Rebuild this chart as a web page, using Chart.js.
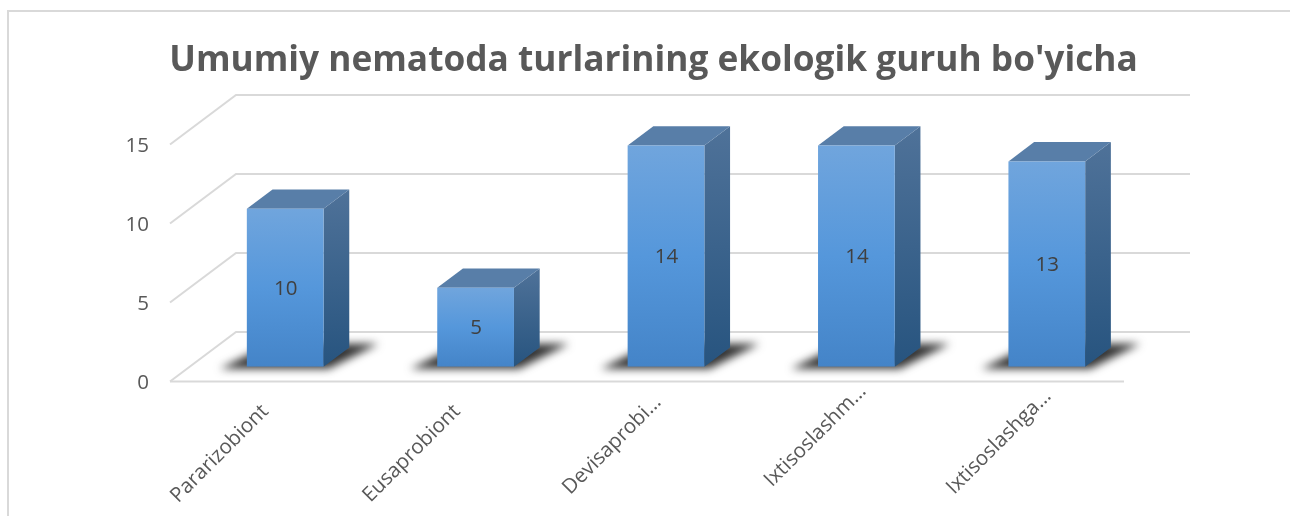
<!DOCTYPE html>
<html>
<head>
<meta charset="utf-8">
<style>html,body{margin:0;padding:0;background:#fff}canvas{display:block}</style>
<script src="https://cdn.jsdelivr.net/npm/chart.js@4"></script>
</head>
<body>
<canvas id="c" width="1290" height="516"></canvas>
<script>
const categories = ['Pararizobiont','Eusaprobiont','Devisaprobi…','Ixtisoslashm…','Ixtisoslashga…'];
const values = [10,5,14,14,13];
const titleText = "Umumiy nematoda turlarining ekologik guruh bo'yicha";
const FONT = '"Open Sans"';

// 3D layout of the picture
const wall = {dx:66, dy:-49.5};    // floor depth for gridlines
const seat = {dx:20, dy:-14.7};    // where bars stand on the floor
const depth = {dx:25.7, dy:-19.3}; // bar depth
const labelSlide = [[0,0],[1.4,0],[12,-9],[26.6,-20],[21,-15]]; // category label nudges along the diagonal

const threeD = {
  id:'threeD',
  beforeDraw(chart){
    const c = chart.ctx;
    c.save();
    c.fillStyle='#fff'; c.fillRect(0,0,chart.width,chart.height);
    c.strokeStyle='#d9d9d9'; c.lineWidth=2;
    c.beginPath(); c.moveTo(8,chart.height); c.lineTo(8,11); c.lineTo(chart.width,11); c.stroke();
    c.restore();
    const xi = chart.scales.x.getLabelItems(), yi = chart.scales.y.getLabelItems();
    if(!xi.shifted){
      xi.forEach((it,i)=>{ it.options.translation[0]+=labelSlide[i][0]; it.options.translation[1]+=labelSlide[i][1]; });
      xi.shifted=true;
    }
    if(!yi.shifted){
      yi.forEach(it=>{ it.options.translation[1]+=1.5; });
      yi.shifted=true;
    }
  },
  beforeDatasetsDraw(chart){
    const c = chart.ctx, a = chart.chartArea, y = chart.scales.y;
    c.save();
    c.strokeStyle='#d9d9d9'; c.lineWidth=2;
    y.ticks.forEach(t=>{
      const p = y.getPixelForValue(t.value);
      c.beginPath();
      c.moveTo(a.left,p);
      c.lineTo(a.left+wall.dx,p+wall.dy);
      c.lineTo(a.right+wall.dx+2,p+wall.dy);
      c.stroke();
    });
    c.beginPath(); c.moveTo(a.left,a.bottom); c.lineTo(a.right+2,a.bottom); c.stroke();
    c.restore();

    c.save();
    c.translate(seat.dx,seat.dy);
    const meta = chart.getDatasetMeta(0);
    // cast shadows
    meta.data.forEach(b=>{
      const l=b.x-b.width/2, r=b.x+b.width/2, base=b.base;
      c.save();
      c.filter='blur(4px)';
      c.fillStyle='#333333';
      c.beginPath();
      c.moveTo(l-27,base+2);
      c.lineTo(r+5,base+2);
      c.lineTo(r+55,base-23);
      c.lineTo(l+24,base-23);
      c.closePath(); c.fill();
      c.restore();
    });
    // top and side faces
    meta.data.forEach(b=>{
      const l=b.x-b.width/2, r=b.x+b.width/2, t=b.y, base=b.base;
      const g=c.createLinearGradient(0,t+depth.dy,0,base);
      g.addColorStop(0,'#4f7299'); g.addColorStop(1,'#27547f');
      c.fillStyle=g;
      c.beginPath();
      c.moveTo(r,t); c.lineTo(r+depth.dx,t+depth.dy);
      c.lineTo(r+depth.dx,base+depth.dy); c.lineTo(r,base);
      c.closePath(); c.fill();
      c.fillStyle='#587ea8';
      c.beginPath();
      c.moveTo(l,t); c.lineTo(l+depth.dx,t+depth.dy);
      c.lineTo(r+depth.dx,t+depth.dy); c.lineTo(r,t);
      c.closePath(); c.fill();
    });
  },
  afterDatasetsDraw(chart){
    const c = chart.ctx, meta = chart.getDatasetMeta(0);
    c.fillStyle='#404040';
    c.font='20.5px '+FONT;
    c.textAlign='center'; c.textBaseline='middle';
    meta.data.forEach((b,i)=>{
      c.fillText(String(values[i]), b.x+0.5, (b.y+b.base)/2+1.2);
    });
    c.restore();
  }
};

new Chart(document.getElementById('c'),{
  type:'bar',
  data:{labels:categories,datasets:[{
    data:values,
    barPercentage:1,
    categoryPercentage:0.403,
    backgroundColor(ctx){
      const el = ctx.chart.scales.y;
      if(!el || ctx.raw===undefined) return '#5b9bd5';
      const top = el.getPixelForValue(ctx.raw), bot = el.getPixelForValue(0);
      if(!isFinite(top) || !isFinite(bot)) return '#5b9bd5';
      const g = ctx.chart.ctx.createLinearGradient(0,top,0,bot);
      g.addColorStop(0,'#70a5dd'); g.addColorStop(0.5,'#5597db'); g.addColorStop(1,'#4484c8');
      return g;
    }
  }]},
  plugins:[threeD],
  options:{
    responsive:false,
    animation:false,
    layout:{padding:{left:17,right:0,top:0,bottom:0}},
    plugins:{
      legend:{display:false},
      tooltip:{enabled:false},
      title:{
        display:true,text:titleText,color:'#595959',
        font:{family:FONT,size:35.25,weight:'bold',lineHeight:1.2},
        padding:{top:39.5,bottom:62.7}
      }
    },
    scales:{
      x:{
        grid:{display:false},border:{display:false},
        afterFit(s){s.height=134.5;},
        ticks:{autoSkip:false,minRotation:45,maxRotation:45,color:'#595959',padding:10,
          font:{family:FONT,size:20.5}}
      },
      y:{
        min:0,max:15,
        grid:{display:false,drawTicks:false},border:{display:false},
        afterFit(s){s.width=153;},
        ticks:{stepSize:5,color:'#595959',padding:21,font:{family:FONT,size:20.5}}
      },
      pad:{
        position:'right',display:true,
        grid:{display:false},border:{display:false},
        ticks:{display:false},
        afterFit(s){s.width=168;}
      }
    }
  }
});
</script>
</body>
</html>
